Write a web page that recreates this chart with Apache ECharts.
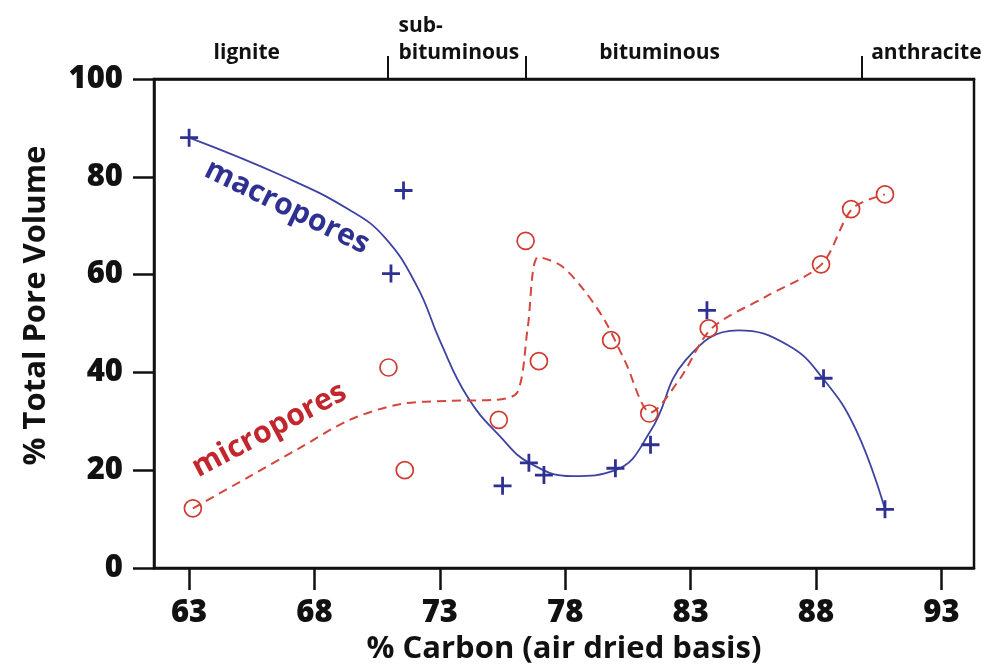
<!DOCTYPE html>
<html>
<head>
<meta charset="utf-8">
<script src="https://cdn.jsdelivr.net/npm/echarts@6/dist/echarts.min.js"></script>
<style>
  html, body { margin: 0; padding: 0; background: #fff; }
  #chart { width: 983px; height: 670px; }
</style>
</head>
<body>
<div id="chart"></div>
<script>
// Measured pore volumes: [% carbon, % of total pore volume]
const macroporePoints = [
  [63.0, 88.0], [71.55, 77.2], [71.05, 60.2], [75.5, 16.8], [76.55, 21.5],
  [77.15, 19.0], [80.0, 20.4], [81.4, 25.2], [83.65, 52.7], [88.3, 38.8], [90.75, 12.0]
];
const microporePoints = [
  [63.15, 12.2], [70.95, 41.0], [71.6, 20.0], [75.35, 30.3], [76.42, 66.9],
  [76.95, 42.3], [79.83, 46.6], [81.35, 31.6], [83.72, 49.0], [88.2, 62.1],
  [89.4, 73.4], [90.75, 76.4]
];

// Fitted trend curves
const macroporeTrend = [
  [63.0, 88.0], [66.8, 80.0], [69.4, 73.2], [70.8, 67.6], [72.1, 57.5], [73.0, 46.5],
  [74.1, 35.0], [75.4, 26.9], [76.6, 21.4], [78.3, 18.8], [80.0, 20.0], [81.4, 28.0],
  [82.8, 42.5], [84.9, 48.6], [86.9, 45.5], [88.3, 38.6], [89.6, 28.2], [90.75, 12.0]
];
const microporeTrend = [
  [63.15, 12.2], [65.4, 18.7], [67.4, 24.5], [69.4, 30.3], [71.4, 33.5], [73.4, 34.2],
  [75.3, 34.4], [76.1, 36.0], [76.5, 49.0], [76.93, 63.6], [77.84, 61.8], [78.78, 56.6],
  [79.6, 50.4], [80.4, 42.1], [81.4, 31.8], [82.56, 38.6], [83.84, 49.0], [86.0, 55.5],
  [88.22, 62.1], [89.45, 73.5], [90.75, 76.4]
];

// Axis ticks
const carbonTicks = [63, 68, 73, 78, 83, 88, 93];
const volumeTicks = [0, 20, 40, 60, 80, 100];

// Coal rank bands along the top axis
const rankBoundaries = [70.93, 76.43, 89.81];
const rankNames = ['lignite', 'sub-\nbituminous', 'bituminous', 'anthracite'];
const rankLabelAt = [65.3, 71.35, 81.76, 90.2];
const rankLabelAlign = ['center', 'left', 'center', 'left'];

const BLUE = '#2e3192';
const BLUE_LINE = '#3d43a3';
const RED = '#cf3a31';
const RED_LINE = '#d4463c';
const INK = '#111';
const FONT = '"Open Sans", "Noto Sans", sans-serif';
const PLUS = 'path://M10,0 L10,20 M0,10 L20,10';

const chart = echarts.init(document.getElementById('chart'), null, { renderer: 'canvas' });

const xMin = 61.6, xMax = 94.3;
const tickFont = { fontFamily: FONT, fontWeight: 800, fontSize: 31, color: INK };
const titleFont = { fontFamily: FONT, fontWeight: 'bold', fontSize: 31, color: INK };

chart.setOption({
  animation: false,
  backgroundColor: '#fff',
  grid: {
    left: 154, right: 9, top: 79, bottom: 102,
    show: true, borderColor: INK, borderWidth: 2.5, backgroundColor: 'transparent'
  },
  xAxis: [
    {
      type: 'value', min: xMin, max: xMax, position: 'bottom',
      name: '% Carbon (air dried basis)', nameLocation: 'middle', nameGap: 63,
      nameTextStyle: titleFont,
      axisLine: { show: true, onZero: false, lineStyle: { color: INK, width: 2.5 } },
      axisTick: { show: true, inside: false, length: 22, customValues: carbonTicks,
                  lineStyle: { color: INK, width: 2.5 } },
      axisLabel: Object.assign({ show: true, margin: 30, customValues: carbonTicks }, tickFont),
      splitLine: { show: false }
    },
    {
      type: 'value', min: xMin, max: xMax, position: 'top',
      axisLine: { show: true, onZero: false, lineStyle: { color: INK, width: 2.5 } },
      axisTick: { show: true, inside: false, length: 23, customValues: rankBoundaries,
                  lineStyle: { color: INK, width: 2 } },
      axisLabel: { show: false },
      splitLine: { show: false }
    }
  ],
  yAxis: {
    type: 'value', min: 0, max: 100, interval: 20,
    name: '% Total Pore Volume', nameLocation: 'middle', nameGap: 102, nameRotate: 90,
    nameTextStyle: Object.assign({ padding: [0, 0, 0, 36] }, titleFont),
    axisLine: { show: true, onZero: false, lineStyle: { color: INK, width: 2.5 } },
    axisTick: { show: true, inside: false, length: 21, lineStyle: { color: INK, width: 2.5 } },
    axisLabel: Object.assign({ margin: 31, customValues: volumeTicks }, tickFont),
    splitLine: { show: false }
  },
  series: [
    {
      name: 'macropores trend', type: 'line', data: macroporeTrend,
      smooth: 0.45, symbol: 'none',
      lineStyle: { color: BLUE_LINE, width: 1.8 }, z: 2
    },
    {
      name: 'micropores trend', type: 'line', data: microporeTrend,
      smooth: 0.3, symbol: 'none',
      lineStyle: { color: RED_LINE, width: 2, type: [9, 6] }, z: 2
    },
    {
      name: 'macropores', type: 'scatter', data: macroporePoints,
      symbol: PLUS, symbolSize: 18,
      itemStyle: { color: 'rgba(0,0,0,0)', borderColor: BLUE, borderWidth: 2.8, opacity: 1 },
      z: 3
    },
    {
      name: 'micropores', type: 'scatter', data: microporePoints,
      symbol: 'circle', symbolSize: 17,
      itemStyle: { color: 'rgba(0,0,0,0)', borderColor: RED, borderWidth: 1.7, opacity: 1 },
      z: 3
    }
  ]
});

// Text annotations placed through the grid's coordinate system
function px(x, y) { return chart.convertToPixel({ gridIndex: 0 }, [x, y]); }

const graphics = [];
const topY = px(xMin, 100)[1];
rankNames.forEach((name, i) => {
  const p = px(rankLabelAt[i], 100);
  graphics.push({
    type: 'text', x: p[0], y: topY - 12, z: 10,
    style: {
      text: name, fill: INK, font: 'bold 21px ' + FONT,
      align: rankLabelAlign[i], verticalAlign: 'bottom', lineHeight: 27
    }
  });
});

const macroLabel = px(66.9, 73.8);
graphics.push({
  type: 'text', x: macroLabel[0], y: macroLabel[1], rotation: -26 * Math.PI / 180, z: 10,
  style: { text: 'macropores', fill: BLUE, font: 'bold 30px ' + FONT,
           align: 'center', verticalAlign: 'middle' }
});
const microLabel = px(66.2, 28.2);
graphics.push({
  type: 'text', x: microLabel[0], y: microLabel[1], rotation: 28 * Math.PI / 180, z: 10,
  style: { text: 'micropores', fill: '#c1272d', font: 'bold 30px ' + FONT,
           align: 'center', verticalAlign: 'middle' }
});

chart.setOption({ graphic: graphics });
</script>
</body>
</html>
